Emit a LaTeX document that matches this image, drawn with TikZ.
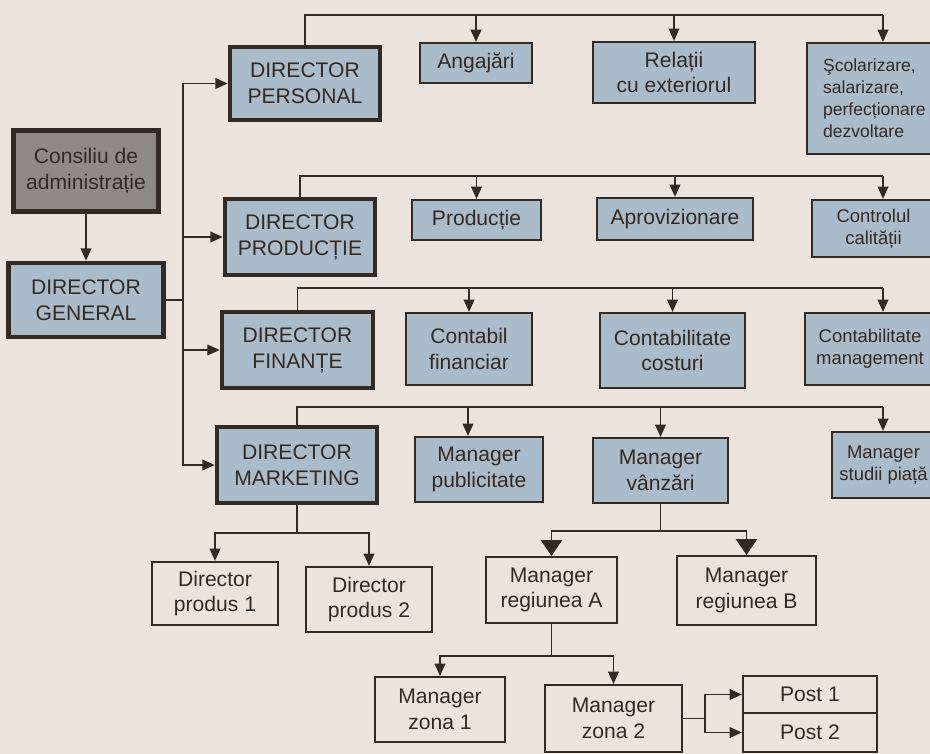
\documentclass[tikz,border=0pt]{standalone}
\usepackage{fontspec}
\setmainfont{Liberation Sans}
\usetikzlibrary{arrows.meta}
\definecolor{paper}{RGB}{236,227,220}
\definecolor{bluebox}{RGB}{170,187,201}
\definecolor{graybox}{RGB}{143,138,132}
\definecolor{ink}{RGB}{52,42,36}
\tikzset{>={Triangle[length=7pt,width=6pt]}}

\begin{document}
\begin{tikzpicture}[x=0.02cm,y=-0.02cm,font=\fontsize{12}{14.7}\selectfont,text=ink]

\tikzstyle{dirbox}=[draw=ink,line width=2.6pt,fill=bluebox,align=center,inner sep=1pt]
\tikzstyle{deptbox}=[draw=ink,line width=1.2pt,fill=bluebox,align=center,inner sep=1pt]
\tikzstyle{subbox}=[draw=ink,line width=1.2pt,align=center,inner sep=1pt]
\tikzstyle{boardbox}=[dirbox,fill=graybox]
\tikzstyle{narrow}=[font=\fontsize{10.5}{12.5}\selectfont]
\tikzstyle{link}=[draw=ink,line width=1.1pt]
\tikzstyle{bigtip}=[-{Triangle[length=9pt,width=12pt]}]

 \useasboundingbox (0,0) rectangle (930,754);
 \fill[paper] (0,0) rectangle (930,754);

 % conducere
 \node[boardbox,minimum width=2.9cm,minimum height=1.62cm] (cons) at (86,171) {Consiliu de\\administrație};
 \node[dirbox,minimum width=3.1cm,minimum height=1.48cm] (dg) at (86,300) {DIRECTOR\\GENERAL};

 \node[dirbox,minimum width=3.0cm,minimum height=1.46cm] (dp) at (305,83.5) {DIRECTOR\\PERSONAL};
 \node[dirbox,minimum width=3.0cm,minimum height=1.52cm] (dprod) at (300,237) {DIRECTOR\\PRODUCȚIE};
 \node[dirbox,minimum width=3.02cm,minimum height=1.52cm] (dfin) at (297.5,350) {DIRECTOR\\FINANȚE};
 \node[dirbox,minimum width=3.2cm,minimum height=1.52cm] (dmk) at (297,465) {DIRECTOR\\MARKETING};

 % personal
 \node[deptbox,minimum width=2.24cm,minimum height=0.8cm] (ang) at (476,63) {Angajări};
 \node[deptbox,minimum width=3.24cm,minimum height=1.22cm] (rel) at (674,72.5) {Relații\\cu exteriorul};
 \node[deptbox,font=\fontsize{10}{12.5}\selectfont,anchor=north west,align=left,text width=2.2cm,
   inner xsep=0.32cm,minimum height=2.22cm] (scol) at (806,42) {Şcolarizare,\\salarizare,\\perfecționare\\dezvoltare};

 % productie
 \node[deptbox,minimum width=2.58cm,minimum height=0.8cm] (prod) at (476.5,220) {Producție};
 \node[deptbox,minimum width=3.12cm,minimum height=0.84cm] (apro) at (675,219) {Aprovizionare};
 \node[deptbox,narrow,minimum width=2.46cm,minimum height=1.14cm] (ctrl) at (873.5,228.5) {Controlul\\calității};

 % finante
 \node[deptbox,minimum width=2.52cm,minimum height=1.44cm] (cfin) at (469,349) {Contabil\\financiar};
 \node[deptbox,minimum width=2.9cm,minimum height=1.5cm] (ccost) at (672.5,350.5) {Contabilitate\\costuri};
 \node[deptbox,narrow,minimum width=2.6cm,minimum height=1.44cm] (cmgmt) at (870,349) {Contabilitate\\management};

 % marketing
 \node[deptbox,minimum width=2.56cm,minimum height=1.3cm] (mpub) at (479,469.5) {Manager\\publicitate};
 \node[deptbox,minimum width=2.7cm,minimum height=1.3cm] (mvz) at (660.5,470.5) {Manager\\vânzări};
 \node[deptbox,narrow,minimum width=2.06cm,minimum height=1.32cm] (mstud) at (883.5,465) {Manager\\studii piață};

 \node[subbox,minimum width=2.52cm,minimum height=1.26cm] (dp1) at (215,593.5) {Director\\produs 1};
 \node[subbox,minimum width=2.52cm,minimum height=1.3cm] (dp2) at (369,599.5) {Director\\produs 2};
 \node[subbox,minimum width=2.62cm,minimum height=1.32cm] (mra) at (551.5,590) {Manager\\regiunea A};
 \node[subbox,minimum width=2.78cm,minimum height=1.38cm] (mrb) at (746.5,590.5) {Manager\\regiunea B};
 \node[subbox,minimum width=2.6cm,minimum height=1.3cm] (mz1) at (440,709.5) {Manager\\zona 1};
 \node[subbox,minimum width=2.74cm,minimum height=1.34cm] (mz2) at (613.5,718.5) {Manager\\zona 2};
 \node[subbox,minimum width=2.68cm,minimum height=0.74cm] (post1) at (810,694.5) {Post 1};
 \node[subbox,minimum width=2.68cm,minimum height=0.78cm] (post2) at (810,732.5) {Post 2};

 % legaturi
 \draw[link,->] (cons) -- (dg);
 \coordinate (hub) at (183,300);
 \draw[link] (dg) -- (hub);
 \foreach \d in {dp,dprod,dfin,dmk}
   \draw[link,->] (hub) |- (\d);

 \coordinate (pe) at (883,15);
 \draw[link] (dp) |- (pe);
 \draw[link,->] (ang |- pe) -- (ang);
 \draw[link,->] (rel |- pe) -- (rel);
 \draw[link,->] (pe) -- (pe |- scol.north);

 \coordinate (qe) at (883,176);
 \draw[link] (dprod) |- (qe);
 \draw[link,->] (prod |- qe) -- (prod);
 \draw[link,->] (apro |- qe) -- (apro);
 \draw[link,->] (qe) -- (qe |- ctrl.north);

 \coordinate (fe) at (883,288);
 \draw[link] (dfin) |- (fe);
 \draw[link,->] (cfin |- fe) -- (cfin);
 \draw[link,->] (ccost |- fe) -- (ccost);
 \draw[link,->] (fe) -- (fe |- cmgmt.north);

 \coordinate (me) at (883,407);
 \coordinate (mp) at (468,407);
 \draw[link] (dmk) |- (me);
 \draw[link,->] (mp) -- (mp |- mpub.north);
 \draw[link,->] (mvz |- me) -- (mvz);
 \draw[link,->] (me) -- (me |- mstud.north);

 \coordinate (mkj) at (297,533);
 \draw[link] (dmk) -- (mkj);
 \draw[link,->] (mkj) -| (dp1);
 \draw[link,->] (mkj) -| (dp2);

 \coordinate (vzj) at (660.5,531);
 \draw[link] (mvz) -- (vzj);
 \draw[link,bigtip] (vzj) -| (mra);
 \draw[link,bigtip] (vzj) -| (mrb);

 \coordinate (raj) at (551.5,656);
 \draw[link] (mra) -- (raj);
 \draw[link,->] (raj) -| (mz1);
 \draw[link,->] (raj) -| (mz2);

 \coordinate (pj) at (705,718.5);
 \draw[link] (mz2) -- (pj);
 \draw[link,->] (pj) |- (post1);
 \draw[link,->] (pj) |- (post2);
\end{tikzpicture}
\end{document}
